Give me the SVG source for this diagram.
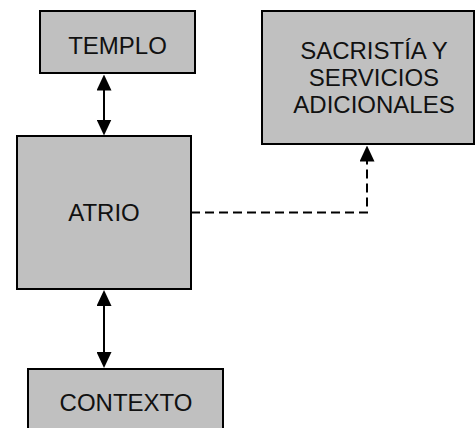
<svg xmlns="http://www.w3.org/2000/svg" width="475" height="428" viewBox="0 0 475 428">
<defs>
<style>
.box{fill:#c0c0c0;stroke:#000;stroke-width:2}
.lbl{font-family:"Liberation Sans",Arial,sans-serif;font-size:24px;fill:#111;text-anchor:middle}
.con{fill:none;stroke:#000;stroke-width:2}
.dash{stroke-dasharray:9,5}
</style>
<marker id="ah" markerUnits="userSpaceOnUse" markerWidth="16" markerHeight="15" refX="12" refY="7.5" orient="auto-start-reverse" viewBox="0 0 16 15">
<path d="M0,0 L16,7.5 L0,15 z" fill="#000"/>
</marker>
</defs>
<rect width="475" height="428" fill="#fff"/>
<g id="connectors">
<line class="con" x1="104" y1="78.5" x2="104" y2="131.5" marker-start="url(#ah)" marker-end="url(#ah)"/>
<line class="con" x1="104" y1="294" x2="104" y2="364" marker-start="url(#ah)" marker-end="url(#ah)"/>
<path class="con dash" d="M191,212.5 H367 V149.5" marker-end="url(#ah)"/>
</g>
<g id="templo">
<rect class="box" x="40" y="11" width="155" height="62"/>
<text class="lbl" x="117.5" y="54">TEMPLO</text>
</g>
<g id="sacristia">
<rect class="box" x="262" y="11" width="212" height="133"/>
<text class="lbl" x="374" y="59.3">SACRISTÍA Y</text>
<text class="lbl" x="374" y="86.3">SERVICIOS</text>
<text class="lbl" x="374" y="113.3">ADICIONALES</text>
</g>
<g id="atrio">
<rect class="box" x="17" y="136" width="174" height="153"/>
<text class="lbl" x="104" y="220.7">ATRIO</text>
</g>
<g id="contexto">
<rect class="box" x="28" y="369" width="195" height="70"/>
<text class="lbl" x="126" y="410.7">CONTEXTO</text>
</g>
</svg>
